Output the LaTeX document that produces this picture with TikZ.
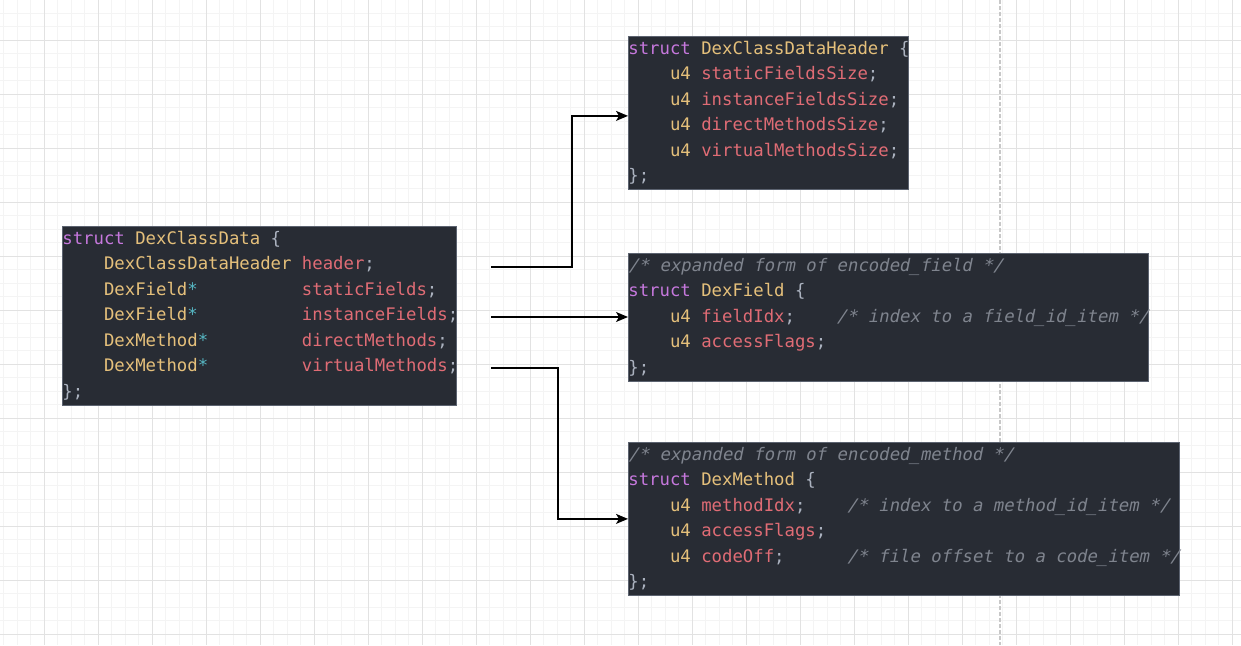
\documentclass[tikz,border=0pt]{standalone}
\usepackage{fontspec}
\setmonofont{DejaVu Sans Mono}
\newfontfamily\cmtfont{DejaVu Sans Mono}[FakeSlant=0.2]
\usetikzlibrary{arrows.meta,positioning}

\definecolor{codebg}{HTML}{282C34}
\definecolor{codeedge}{HTML}{5C6370}
\definecolor{kwcol}{HTML}{C678DD}
\definecolor{tycol}{HTML}{E5C07B}
\definecolor{fdcol}{HTML}{E06C75}
\definecolor{ptcol}{HTML}{56B6C2}
\definecolor{pncol}{HTML}{ABB2BF}
\definecolor{cmcol}{HTML}{7F848E}
\definecolor{gridmin}{HTML}{F4F4F4}
\definecolor{gridmaj}{HTML}{E2E2E2}
\definecolor{breakcol}{HTML}{C8C8C8}

\newcommand\kw[1]{\textcolor{kwcol}{#1}}
\newcommand\ty[1]{\textcolor{tycol}{#1}}
\newcommand\fd[1]{\textcolor{fdcol}{#1}}
\newcommand\ptr{\textcolor{ptcol}{*}}
\newcommand\cmt[1]{\textcolor{cmcol}{\cmtfont\fontsize{17.3}{25.5}\selectfont#1}}
\newcommand\gap[1]{\hspace*{#1\fontcharwd\font`\x}}
\newcommand\codeline[1]{\mbox{\spaceskip=\fontcharwd\font`\x\relax\strut#1}}

\begin{document}
\begin{tikzpicture}[
    x=1pt, y=-1pt,
    codebox/.style={draw=codeedge, line width=0.8pt, fill=codebg, anchor=north west, inner sep=0pt, align=left, text=pncol, font=\ttfamily\fontsize{17.3}{25.5}\selectfont},
    arrow/.style={-{Stealth[length=12pt,width=10pt,inset=3pt]}, line width=1.3pt, draw=black},
    gridminor/.style={draw=gridmin, line width=1pt},
    gridmajor/.style={draw=gridmaj, line width=1pt},
    pagebreak/.style={draw=breakcol, line width=1.5pt, dash pattern=on 4pt off 2pt}
]
    \useasboundingbox (0,0) rectangle (1241,645);
    \fill[white] (0,0) rectangle (1241,645);

    % background grid
    \begin{scope}
        \clip (0,0) rectangle (1241,645);
        \foreach \k in {-3,...,88} \draw[gridminor] ({44.3+13.5*\k},0) -- ({44.3+13.5*\k},645);
        \foreach \k in {-2,...,44} \draw[gridminor] (0,{40.3+13.5*\k}) -- (1241,{40.3+13.5*\k});
        \foreach \k in {0,...,22} \draw[gridmajor] ({44.3+54*\k},0) -- ({44.3+54*\k},645);
        \foreach \k in {0,...,11} \draw[gridmajor] (0,{40.3+54*\k}) -- (1241,{40.3+54*\k});
    \end{scope}
    \draw[pagebreak] (1000,0) -- (1000,645);

    \node[codebox, text width=394pt] (classdata) at (62,226) {%
        \codeline{\kw{struct} \ty{DexClassData} \{}\\
        \codeline{\gap{4}\ty{DexClassDataHeader} \fd{header};}\\
        \codeline{\gap{4}\ty{DexField}\ptr\gap{10}\fd{staticFields};}\\
        \codeline{\gap{4}\ty{DexField}\ptr\gap{10}\fd{instanceFields};}\\
        \codeline{\gap{4}\ty{DexMethod}\ptr\gap{9}\fd{directMethods};}\\
        \codeline{\gap{4}\ty{DexMethod}\ptr\gap{9}\fd{virtualMethods};}\\
        \codeline{\};}};
    \node[codebox, text width=280pt] (hdr) at (628,36) {%
        \codeline{\kw{struct} \ty{DexClassDataHeader} \{}\\
        \codeline{\gap{4}\ty{u4} \fd{staticFieldsSize};}\\
        \codeline{\gap{4}\ty{u4} \fd{instanceFieldsSize};}\\
        \codeline{\gap{4}\ty{u4} \fd{directMethodsSize};}\\
        \codeline{\gap{4}\ty{u4} \fd{virtualMethodsSize};}\\
        \codeline{\};}};
    \node[codebox, text width=519.5pt] (fld) at (628,253) {%
        \codeline{\cmt{/* expanded form of encoded\_field */}}\\
        \codeline{\kw{struct} \ty{DexField} \{}\\
        \codeline{\gap{4}\ty{u4} \fd{fieldIdx};\gap{4}\cmt{/* index to a field\_id\_item */}}\\
        \codeline{\gap{4}\ty{u4} \fd{accessFlags};}\\
        \codeline{\};}};
    \node[codebox, text width=551pt] (mth) at (628,442) {%
        \codeline{\cmt{/* expanded form of encoded\_method */}}\\
        \codeline{\kw{struct} \ty{DexMethod} \{}\\
        \codeline{\gap{4}\ty{u4} \fd{methodIdx};\gap{4}\cmt{/* index to a method\_id\_item */}}\\
        \codeline{\gap{4}\ty{u4} \fd{accessFlags};}\\
        \codeline{\gap{4}\ty{u4} \fd{codeOff};\gap{6}\cmt{/* file offset to a code\_item */}}\\
        \codeline{\};}};

    \coordinate (s1) at (491,267);
    \coordinate (s2) at (491,317);
    \coordinate (s3) at (491,368);

    \draw[arrow] (s1) -- ++(81,0) |- ([yshift=-3pt]hdr.west);
    \draw[arrow] (s2) -- (s2 -| fld.west);
    \draw[arrow] (s3) -- ++(67,0) |- (mth.west);
\end{tikzpicture}
\end{document}
